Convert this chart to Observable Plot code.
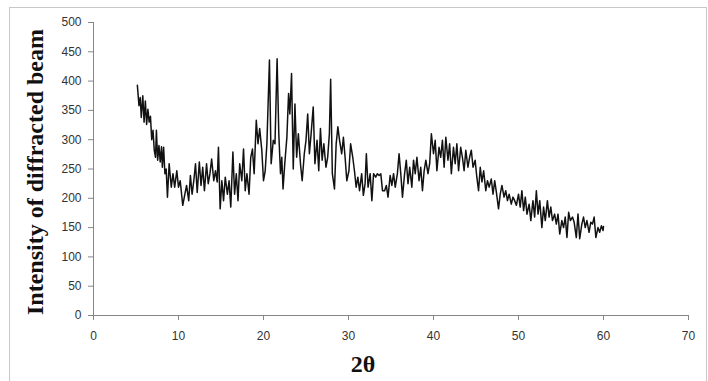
<!DOCTYPE html>
<html>
<head>
<meta charset="utf-8">
<script src="https://cdn.jsdelivr.net/npm/d3@7"></script>
<script src="https://cdn.jsdelivr.net/npm/@observablehq/plot@0.6"></script>
<style>
  html, body { margin: 0; padding: 0; background: #fff; }
  #wrap { position: relative; width: 708px; height: 381px; overflow: hidden; }
  #border { position: absolute; left: 9px; top: 7px; width: 696px; height: 380px; border: 1px solid #c8c8c8; pointer-events: none; }
  #wrap svg text { fill: #333; }
  #wrap svg g[aria-label="text"] text { fill: #111; }
</style>
</head>
<body>
<div id="wrap"><div id="border"></div></div>
<script>
const angle = [5.16,5.35,5.5,5.62,5.8,5.95,6.1,6.25,6.4,6.55,6.7,6.85,7.0,7.15,7.3,7.4,7.55,7.7,7.85,8.0,8.1,8.25,8.4,8.55,8.7,8.9,9.15,9.35,9.55,9.8,10.0,10.2,10.5,10.75,10.95,11.2,11.4,11.6,11.8,12.0,12.2,12.45,12.65,12.85,13.05,13.3,13.5,13.7,13.9,14.15,14.35,14.55,14.7,14.9,15.1,15.3,15.5,15.75,15.95,16.15,16.4,16.6,16.8,17.0,17.2,17.45,17.65,17.85,18.05,18.3,18.5,18.7,18.9,19.15,19.35,19.55,19.8,20.0,20.2,20.4,20.7,20.9,21.15,21.35,21.6,21.8,22.0,22.15,22.3,22.5,22.75,22.95,23.1,23.3,23.5,23.7,23.9,24.1,24.35,24.55,24.8,25.0,25.2,25.4,25.6,25.85,26.05,26.3,26.5,26.7,26.9,27.1,27.35,27.55,27.75,27.9,28.1,28.35,28.55,28.75,28.95,29.2,29.4,29.6,29.8,30.05,30.25,30.5,30.7,30.9,31.1,31.3,31.55,31.75,31.95,32.1,32.3,32.55,32.75,32.95,33.2,33.4,33.6,33.8,34.0,34.25,34.45,34.65,34.9,35.1,35.3,35.5,35.75,35.95,36.15,36.35,36.6,36.8,37.0,37.2,37.45,37.65,37.85,38.05,38.3,38.5,38.7,38.9,39.1,39.35,39.55,39.75,40.0,40.2,40.4,40.65,40.85,41.05,41.25,41.45,41.7,41.9,42.1,42.35,42.55,42.75,42.95,43.2,43.4,43.6,43.8,44.05,44.25,44.45,44.65,44.9,45.1,45.3,45.5,45.7,45.9,46.15,46.35,46.55,46.8,47.0,47.2,47.4,47.65,47.85,48.05,48.3,48.5,48.7,48.9,49.15,49.35,49.55,49.75,50.0,50.2,50.4,50.6,50.8,51.0,51.25,51.45,51.7,51.9,52.1,52.3,52.5,52.75,52.95,53.15,53.4,53.6,53.8,54.0,54.25,54.45,54.65,54.85,55.1,55.3,55.5,55.7,55.9,56.1,56.35,56.55,56.8,57.0,57.2,57.45,57.65,57.85,58.05,58.3,58.5,58.7,58.9,59.1,59.35,59.55,59.75,59.95,60.0];
const intensity = [393,358,372,338,375,330,366,326,352,330,340,300,316,282,270,316,265,290,262,288,253,287,242,250,202,259,219,242,219,247,219,230,188,207,222,196,239,207,230,259,210,262,222,253,213,259,225,242,267,230,247,228,287,182,230,196,236,207,230,185,279,207,242,196,259,230,284,213,242,207,270,284,242,333,293,319,282,230,247,293,436,259,299,293,438,310,242,270,216,259,304,379,344,413,250,361,270,310,259,230,276,299,344,276,310,356,259,299,247,319,265,293,253,270,310,403,242,216,293,322,299,276,304,270,230,247,293,270,247,219,236,213,242,205,225,276,219,242,196,242,236,242,239,242,213,213,222,202,239,222,242,219,242,276,242,202,242,265,225,253,219,265,242,270,230,253,213,247,265,242,259,310,276,299,247,287,270,299,253,304,265,293,242,287,259,293,247,287,270,247,282,253,270,282,253,265,236,213,253,228,247,213,230,219,233,207,230,210,182,207,222,202,213,196,207,190,202,196,188,207,185,213,179,202,173,190,162,196,168,213,173,196,150,185,162,196,168,185,162,173,156,173,139,162,150,168,133,176,162,168,159,133,173,131,156,168,150,162,142,159,156,168,133,150,142,153,145,152];
const xTicks = [0, 10, 20, 30, 40, 50, 60, 70];
const yTicks = [0, 50, 100, 150, 200, 250, 300, 350, 400, 450, 500];
const xLabel = "2θ";
const yLabel = "Intensity of diffracted beam";

const axisGray = "#868686";
const serif = "'Liberation Serif', 'Times New Roman', serif";
const chart = Plot.plot({
  width: 708,
  height: 381,
  marginLeft: 93,
  marginRight: 20,
  marginTop: 22,
  marginBottom: 66,
  style: { fontFamily: "'Liberation Sans', Arial, sans-serif", fontSize: "12px", background: "transparent" },
  x: { domain: [0, 70] },
  y: { domain: [0, 500] },
  marks: [
    Plot.axisX({ ticks: xTicks, tickSize: 5, tickPadding: 11, label: null, stroke: axisGray }),
    Plot.axisY({ ticks: yTicks, tickSize: 5, tickPadding: 7, label: null, stroke: axisGray }),
    Plot.ruleY([0], { stroke: axisGray }),
    Plot.ruleX([0], { stroke: axisGray }),
    Plot.lineY(intensity, { x: angle, y: intensity, stroke: "#111", strokeWidth: 1.5 }),
    Plot.text([yLabel], { frameAnchor: "left", textAnchor: "middle", lineAnchor: "middle", dx: -58, dy: 3, rotate: -90, fontSize: 24, fontWeight: "bold", fontFamily: serif, fill: "#111" }),
    Plot.text([xLabel], { frameAnchor: "bottom", textAnchor: "middle", lineAnchor: "middle", dx: -28, dy: 49, fontSize: 24, fontWeight: "bold", fontFamily: serif, fill: "#111" })
  ]
});
document.getElementById("wrap").prepend(chart);
</script>
</body>
</html>
